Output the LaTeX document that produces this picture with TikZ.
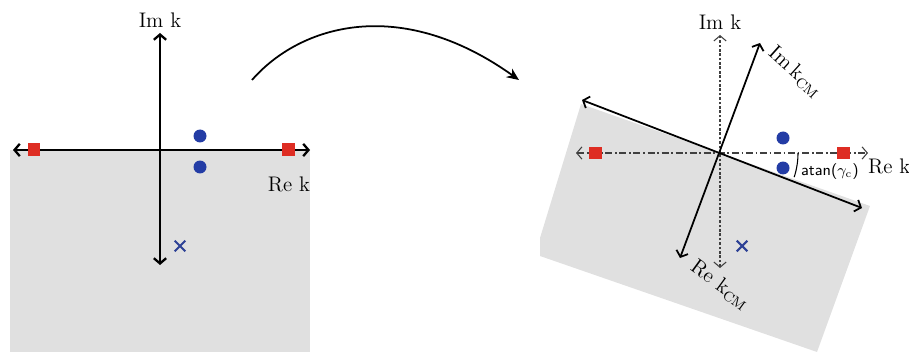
\documentclass[tikz,border=0pt]{standalone}
\usepackage{amsmath}
\usepackage{xcolor}
\usepackage{tikz}
\usetikzlibrary{positioning,calc,arrows.meta,shapes.misc}
\definecolor{PoleBlue}{RGB}{35,60,165}
\definecolor{ZeroBlue}{RGB}{45,65,150}
\definecolor{CutRed}{RGB}{222,45,35}
\definecolor{SheetGrey}{RGB}{224,224,224}

\begin{document}
\begin{tikzpicture}[
		x=0.02cm, y=-0.02cm,
		>={Straight Barb[length=3pt,width=7pt]},
		axis/.style={line width=1.3pt, <->},
		cmaxis/.style={line width=1pt, <->},
		refaxis/.style={line width=0.6pt, black!75, <->},
		pole/.style={circle, fill=PoleBlue, inner sep=0pt, minimum size=0.26cm},
		cut/.style={rectangle, fill=CutRed, inner sep=0pt, minimum size=0.26cm},
		zero/.style={cross out, draw=ZeroBlue, line width=1.2pt, inner sep=0pt, minimum size=0.17cm},
		lbl/.style={font=\large, inner sep=1pt},
		bendarrow/.style={line width=1pt, -{Stealth[length=7pt,width=6pt]}}
		]
		
		\useasboundingbox (0,0) rectangle (909,361);
		
		% ===== left sheet =====
		\fill[SheetGrey] (10,150) rectangle (310,352);
		\coordinate (ReLw) at (13,150);
		\coordinate (ReLe) at (310,150);
		\coordinate (ImLt) at (160,33);
		\coordinate (ImLb) at (160,265);
		\draw[axis] (ReLw) -- (ReLe);
		\draw[axis] (ImLb) -- (ImLt);
		
		\foreach \px [count=\i from 1] in {34,288}{
			\node[cut] (cutL\i) at (\px,150) {};
		}
		\foreach \py [count=\i from 1] in {136,167}{
			\node[pole] (poleL\i) at (200,\py) {};
		}
		\node[zero] (zeroL) at (180,246) {};
		
		\node[lbl, above=2pt of ImLt] (ImLbl) {Im k};
		\node[lbl] (ReLbl) at (289,184) {Re k};
		
		% ===== rotation arrow =====
		\coordinate (bendS) at (252,80);
		\coordinate (bendE) at (519,80);
		\draw[bendarrow] (bendS) .. controls (300,25) and (400,-5) .. (bendE);
		
		% ===== right sheet (rotated) =====
		\fill[SheetGrey] (581,104) -- (870,206) -- (817,352) -- (540,256) -- (540,238) -- cycle;
		\coordinate (OR) at (720,153);
		\coordinate (ReRw) at (576,153);
		\coordinate (ReRe) at (868,153);
		\coordinate (ImRt) at (720,35);
		\coordinate (ImRb) at (720,268);
		\draw[refaxis, dash pattern=on 4pt off 1.5pt on 1pt off 1.5pt] (ReRw) -- (ReRe);
		\draw[refaxis, dash pattern=on 1.5pt off 1pt] (ImRb) -- (ImRt);
		
		\coordinate (ReCMw) at (582,100);
		\coordinate (ReCMe) at (862,208);
		\coordinate (ImCMt) at (760,43);
		\coordinate (ImCMb) at (680,258);
		\draw[cmaxis] (ReCMw) -- (ReCMe);
		\draw[cmaxis] (ImCMb) -- (ImCMt);
		
		% angle between the two real axes
		\draw[line width=0.6pt] plot[domain=0:18, samples=12] ({720+78*cos(\x)},{153+78*sin(\x)});
		
		\foreach \px [count=\i from 1] in {595,843}{
			\node[cut] (cutR\i) at (\px,153) {};
		}
		\foreach \py [count=\i from 1] in {138,168}{
			\node[pole] (poleR\i) at (783,\py) {};
		}
		\node[zero] (zeroR) at (742,246) {};
		
		\node[lbl, above=2pt of ImRt] (ImRlbl) {Im k};
		\node[lbl, anchor=west] (ReRlbl) at (866,166) {Re k};
		\node[lbl, rotate=-42] (ImCMlbl) at (795,72) {Im\,k\textsubscript{CM}};
		\node[lbl, rotate=-36] (ReCMlbl) at (720,285) {Re k\textsubscript{CM}};
		\node[font=\small\sffamily, anchor=west, inner sep=1pt] (angLbl) at (799,172) {atan($\gamma_{\mathrm{c}}$)};
		
	\end{tikzpicture}
\end{document}
